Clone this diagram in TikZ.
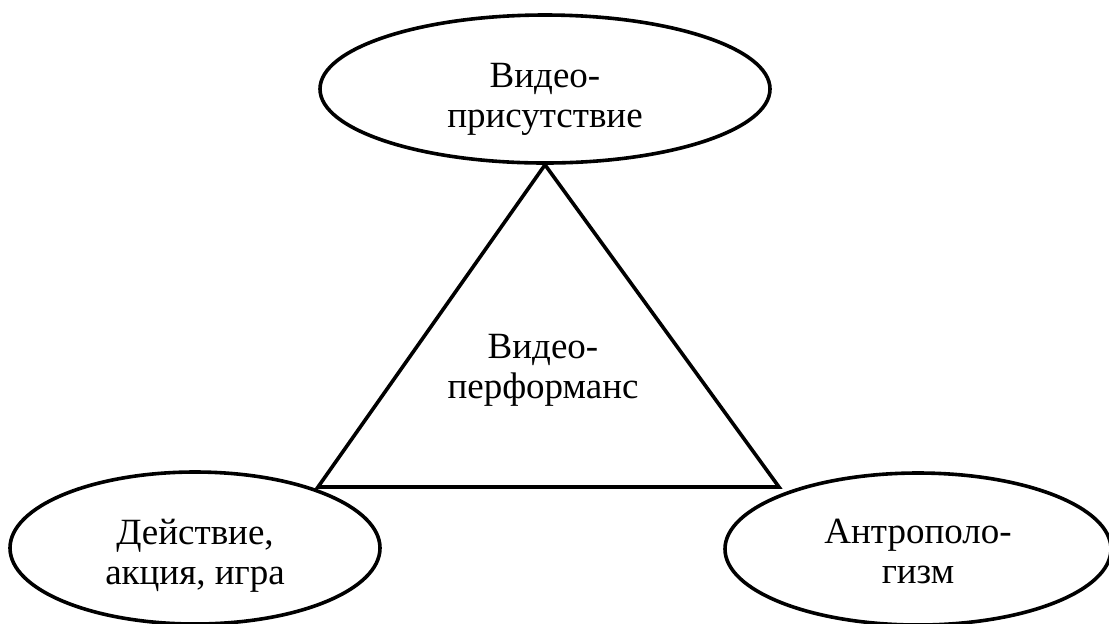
\documentclass[tikz,border=0pt]{standalone}
\usepackage{fontspec}
\setmainfont{Liberation Serif}
\usetikzlibrary{shapes.geometric,positioning}

\begin{document}
\begin{tikzpicture}[x=0.5pt, y=-0.5pt,
	idea/.style={ellipse, draw=black, line width=1.8pt, inner sep=0pt, minimum height=76pt},
	txt/.style={align=center, inner sep=0pt, font=\fontsize{18.5}{20}\selectfont}]

	\useasboundingbox (0,0) rectangle (1109,623);

	% Ellipses
	\node[idea, minimum width=225pt, minimum height=74pt] (Pres) at (545,89) {};
	\node[idea, minimum width=185pt] (Act) at (195,548) {};
	\node[idea, minimum width=193pt] (Anthro) at (918,549) {};

	% Texts
	\node[txt] (PresText) at ([yshift=-5pt]Pres.center) {Видео-\\присутствие};
	\node[txt] (ActText) at ([yshift=-4pt]Act.center) {Действие,\\акция, игра};
	\node[txt] (AnthroText) at ([yshift=-1pt]Anthro.center) {Антрополо-\\гизм};
	\node[txt] (Perf) at (543,370) {Видео-\\перформанс};

	% Triangle
	\coordinate (Left) at (318,487);
	\coordinate (Right) at (779,487);
	\draw[line width=1.8pt, line join=miter] (Pres.south) -- (Right) -- (Left) -- cycle;
\end{tikzpicture}
\end{document}
